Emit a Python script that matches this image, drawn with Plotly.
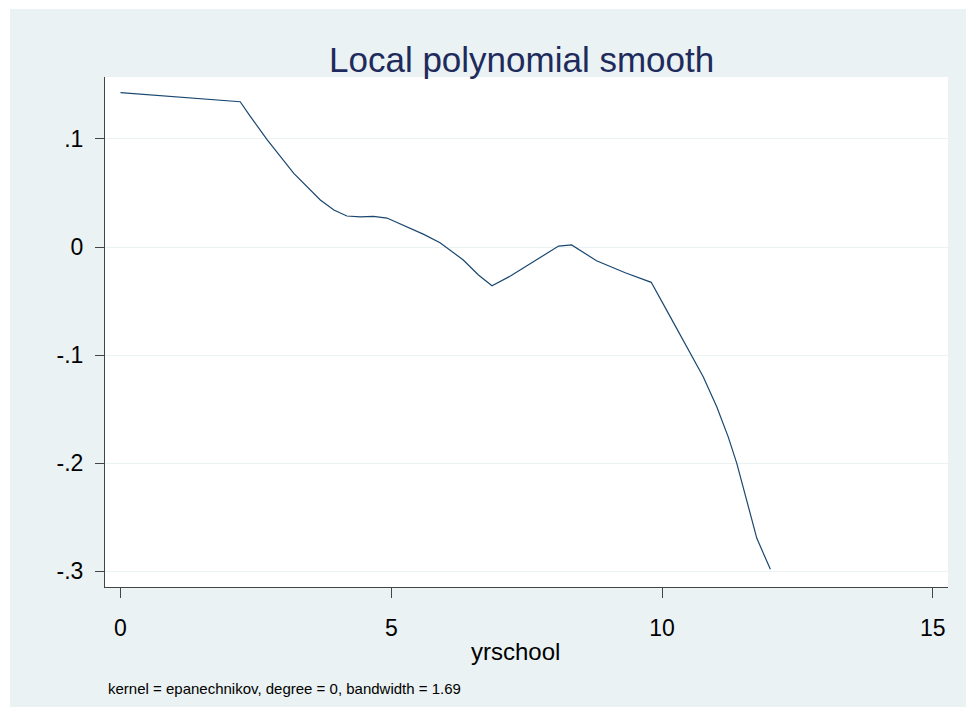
import plotly.graph_objects as go

# Smoothed curve of the outcome against years of schooling
yrschool = [0.0, 2.21, 2.40, 2.71, 3.20, 3.69, 3.94, 4.18, 4.43, 4.67, 4.92,
            5.29, 5.60, 5.90, 6.09, 6.33, 6.61, 6.86, 7.20, 7.63, 8.09, 8.33,
            8.79, 9.32, 9.80, 10.15, 10.46, 10.76, 11.01, 11.22, 11.38, 11.53,
            11.75, 12.0]
smooth = [0.1429, 0.1345, 0.1207, 0.0991, 0.0682, 0.0435, 0.0343, 0.0287,
          0.0278, 0.0284, 0.0268, 0.0188, 0.0117, 0.0040, -0.0028, -0.0120,
          -0.0259, -0.0358, -0.0269, -0.0136, 0.0009, 0.0019, -0.0127,
          -0.0238, -0.0327, -0.0645, -0.0923, -0.1201, -0.1479, -0.1756,
          -0.2003, -0.2281, -0.2697, -0.2984]

x_ticks = [0, 5, 10, 15]
x_tick_labels = ["0", "5", "10", "15"]
y_ticks = [0.1, 0, -0.1, -0.2, -0.3]
y_tick_labels = [".1", "0", "-.1", "-.2", "-.3"]

BG = "#EAF2F3"
NAVY = "#1a476f"
AXIS = "#444444"
FONT = "Liberation Sans, Arial, sans-serif"

W, H = 966, 707
L, R, T, B = 105, 18, 77, 120
PW, PH = W - L - R, H - T - B


def px_x(p):
    return (p - L) / PW


def px_y(p):
    return (H - B - p) / PH


fig = go.Figure()
fig.add_trace(go.Scatter(x=yrschool, y=smooth, mode="lines",
                         line=dict(color=NAVY, width=1.2), showlegend=False))

fig.update_layout(
    width=W, height=H,
    margin=dict(l=L, r=R, t=T, b=B),
    paper_bgcolor="white", plot_bgcolor="rgba(0,0,0,0)",
    font=dict(family=FONT, color="black"),
    shapes=[
        # graph region background, inset from the top-left corner
        dict(type="rect", xref="paper", yref="paper", layer="below",
             x0=px_x(10), x1=px_x(W + 5), y0=px_y(H + 5), y1=px_y(9),
             fillcolor=BG, line=dict(width=0)),
        # plot region
        dict(type="rect", xref="paper", yref="paper", layer="below",
             x0=0, x1=1, y0=0, y1=1, fillcolor="white", line=dict(width=0)),
    ],
)
fig.update_xaxes(
    range=[-0.286, 15.28], tickvals=x_ticks, ticktext=x_tick_labels,
    showgrid=False, zeroline=False, showline=True, linecolor=AXIS,
    linewidth=1, ticks="outside", ticklen=10, tickcolor=AXIS,
    tickfont=dict(size=23, family=FONT), ticklabelstandoff=10,
)
fig.update_yaxes(
    range=[-0.3148, 0.1574], tickvals=y_ticks, ticktext=y_tick_labels,
    showgrid=True, gridcolor=BG, gridwidth=1, zeroline=False,
    showline=True, linecolor=AXIS, linewidth=1, ticks="outside",
    ticklen=9, tickcolor=AXIS, tickfont=dict(size=23, family=FONT),
    ticklabelstandoff=7,
)

fig.add_annotation(text="Local polynomial smooth", xref="paper", yref="paper",
                   x=px_x(521), y=px_y(60), xanchor="center", yanchor="middle",
                   showarrow=False, font=dict(size=35, color="#1e2b5c", family=FONT))
fig.add_annotation(text="yrschool", xref="paper", yref="paper",
                   x=px_x(515), y=px_y(651), xanchor="center", yanchor="middle",
                   showarrow=False, font=dict(size=24, family=FONT))
fig.add_annotation(text="kernel = epanechnikov, degree = 0, bandwidth = 1.69",
                   xref="paper", yref="paper", x=px_x(106), y=px_y(688),
                   xanchor="left", yanchor="middle", showarrow=False,
                   font=dict(size=15, family=FONT))

fig.write_html("out.html")
